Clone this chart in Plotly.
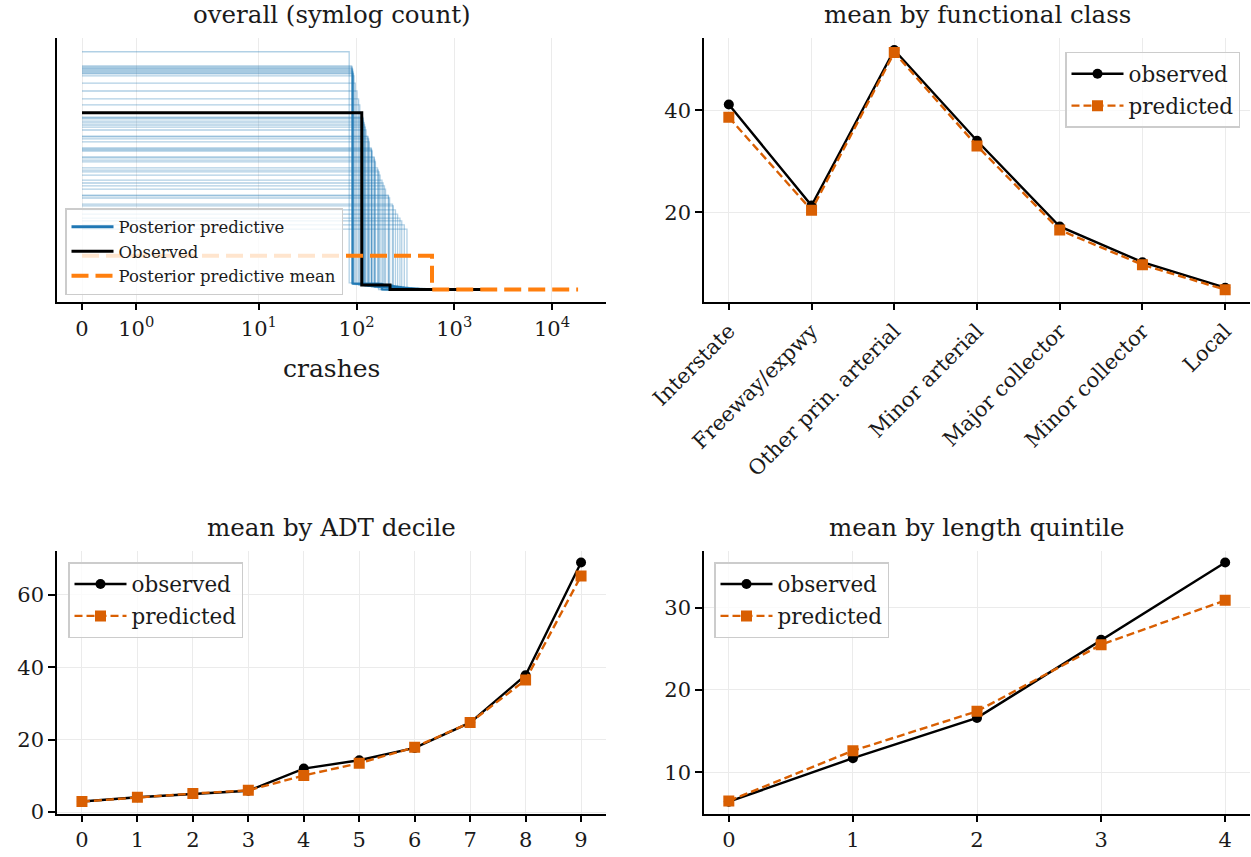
import math
import plotly.graph_objects as go

# ---------------- data ----------------
# Panel 1: posterior predictive histograms (step outlines), x = crashes, y = density
pp_first_bin_width = [84, 89, 90, 90, 91, 91, 91, 92, 92, 93, 94, 97, 101, 105, 108, 113, 116, 116, 117, 118,
                      120, 121, 123, 125, 130, 131, 133, 135, 141, 142, 143, 144, 151, 152, 154, 156, 164, 167, 170, 174,
                      182, 187, 193, 198, 211, 213, 218, 233, 238, 250, 263, 278, 290, 308, 328]
pp_first_bin_density = [0.01142, 0.01074, 0.01069, 0.01064, 0.01060, 0.01055, 0.01050, 0.01045, 0.01040, 0.01036,
                        0.01026, 0.00992, 0.00954, 0.00916, 0.00887, 0.00849, 0.00829, 0.00825, 0.00820, 0.00810,
                        0.00801, 0.00791, 0.00781, 0.00767, 0.00738, 0.00734, 0.00724, 0.00710, 0.00681, 0.00676,
                        0.00671, 0.00666, 0.00638, 0.00633, 0.00623, 0.00614, 0.00585, 0.00575, 0.00566, 0.00551,
                        0.00527, 0.00513, 0.00499, 0.00484, 0.00455, 0.00451, 0.00441, 0.00412, 0.00403, 0.00384,
                        0.00364, 0.00345, 0.00331, 0.00312, 0.00292]
pp_second_bin_density = [0.00034, 0.00031, 0.00033, 0.00029, 0.00032, 0.00030, 0.00028, 0.00031, 0.00027, 0.00030,
                         0.00029, 0.00026, 0.00027, 0.00024, 0.00025, 0.00023, 0.00024, 0.00021, 0.00022, 0.00023,
                         0.00020, 0.00021, 0.00019, 0.00020, 0.00018, 0.00019, 0.00017, 0.00018, 0.00016, 0.00017,
                         0.00015, 0.00016, 0.00014, 0.00015, 0.00013, 0.00014, 0.00012, 0.00013, 0.00012, 0.00011,
                         0.00011, 0.00010, 0.00010, 0.00009, 0.00009, 0.00008, 0.00009, 0.00008, 0.00007, 0.00008,
                         0.00007, 0.00006, 0.00007, 0.00006, 0.00005]
pp_max_crashes = [1850, 2120, 1640, 1980, 2310, 1720, 1900, 2050, 1560, 2240,
                  1790, 1950, 2180, 1680, 2010, 1870, 2290, 1610, 1930, 2090,
                  1750, 2200, 1820, 1990, 1580, 2130, 1880, 1700, 2260, 1960,
                  1810, 2070, 1650, 2150, 1920, 1770, 2340, 1860, 2020, 1690,
                  2110, 1840, 1970, 2230, 1600, 1890, 2060, 1740, 2170, 1910,
                  1800, 2280, 1660, 2000, 1940]
pp_tail_density = 0.00002

obs_edges = [0, 113, 220, 1970]
obs_density = [0.00850, 0.00024, 0.00003]

mean_edges = [0, 592, 18500]
mean_density = [0.00164, 0.00002]

symlog_tick_values = [0, 1, 10, 100, 1000, 10000]
symlog_tick_labels = ["0", "10<sup>0</sup>", "10<sup>1</sup>", "10<sup>2</sup>", "10<sup>3</sup>", "10<sup>4</sup>"]

# Panel 2: mean by functional class
func_classes = ["Interstate", "Freeway/expwy", "Other prin. arterial", "Minor arterial",
                "Major collector", "Minor collector", "Local"]
func_observed = [41.1, 21.3, 51.8, 34.0, 17.2, 10.2, 5.2]
func_predicted = [38.6, 20.4, 51.3, 33.0, 16.5, 9.7, 4.8]

# Panel 3: mean by ADT decile
adt_deciles = [0, 1, 2, 3, 4, 5, 6, 7, 8, 9]
adt_observed = [2.9, 4.1, 5.0, 5.9, 12.0, 14.3, 17.7, 24.7, 37.8, 68.9]
adt_predicted = [2.9, 4.1, 5.1, 6.0, 10.1, 13.5, 17.9, 24.7, 36.5, 65.2]

# Panel 4: mean by length quintile
len_quintiles = [0, 1, 2, 3, 4]
len_observed = [6.4, 11.7, 16.6, 26.1, 35.5]
len_predicted = [6.5, 12.6, 17.4, 25.5, 30.9]


# --------------- helpers ----------------
def symlog(v, linthresh=2.0, base=10.0, linscale=1.0):
    """matplotlib-style symlog transform (in decade units)."""
    adj = linscale / (1.0 - 1.0 / base)
    a = abs(v)
    if a <= linthresh:
        return v / linthresh * adj
    return math.copysign(adj + math.log10(a / linthresh), v)


FONT = "DejaVu Serif"
TXT = "#1a1a1a"
BLUE = "#1f77b4"
ORANGE = "#ff7f0e"
DORANGE = "#d95f02"
GRID = "#ebebeb"

fig = go.Figure()

# ---- panel 1 ----
for w, h1, h2, m in zip(pp_first_bin_width, pp_first_bin_density, pp_second_bin_density, pp_max_crashes):
    edges = [0, w, 2 * w, m]
    dens = [h1, h2, pp_tail_density, pp_tail_density]
    fig.add_trace(go.Scatter(
        x=[symlog(e) for e in edges], y=dens, mode="lines", line_shape="hv",
        line=dict(color="rgba(31,119,180,0.35)", width=1.3), showlegend=False,
        hoverinfo="skip", xaxis="x", yaxis="y"))

fig.add_trace(go.Scatter(x=[None], y=[None], mode="lines", name="Posterior predictive",
                         line=dict(color=BLUE, width=3), xaxis="x", yaxis="y",
                         legend="legend", legendgroup="a"))
fig.add_trace(go.Scatter(x=[symlog(e) for e in obs_edges], y=obs_density + [obs_density[-1]],
                         mode="lines", line_shape="hv", name="Observed",
                         line=dict(color="black", width=3), xaxis="x", yaxis="y",
                         legend="legend", legendgroup="b"))
fig.add_trace(go.Scatter(x=[symlog(e) for e in mean_edges], y=mean_density + [mean_density[-1]],
                         mode="lines", line_shape="hv", name="Posterior predictive mean",
                         line=dict(color=ORANGE, width=4, dash="17px,7px"), xaxis="x", yaxis="y",
                         legend="legend", legendgroup="c"))

# ---- panels 2-4 ----
def add_pair(xv, obs, pred, xa, ya, leg):
    fig.add_trace(go.Scatter(x=xv, y=obs, mode="lines+markers", name="observed",
                             line=dict(color="black", width=2.4),
                             marker=dict(symbol="circle", size=10, color="black"),
                             xaxis=xa, yaxis=ya, legend=leg, legendgroup=leg + "o"))
    fig.add_trace(go.Scatter(x=xv, y=pred, mode="lines+markers", name="predicted",
                             line=dict(color=DORANGE, width=2.4, dash="8px,4px"),
                             marker=dict(symbol="square", size=11, color=DORANGE),
                             xaxis=xa, yaxis=ya, legend=leg, legendgroup=leg + "p"))


add_pair(func_classes, func_observed, func_predicted, "x2", "y2", "legend2")
add_pair(adt_deciles, adt_observed, adt_predicted, "x3", "y3", "legend3")
add_pair(len_quintiles, len_observed, len_predicted, "x4", "y4", "legend4")

# ---------------- layout ----------------
W, H = 1251, 857
def px(v):
    return v / W
def py(v):
    return 1 - v / H

common = dict(showline=True, linecolor="black", linewidth=1.5, ticks="outside", ticklen=7,
              tickwidth=1.5, tickcolor="black", showgrid=True, gridcolor=GRID, gridwidth=1,
              zeroline=False, automargin=False, tickfont=dict(family=FONT, size=21, color=TXT))

top_dom = [py(301.7), py(38)]
bot_dom = [py(813.5), py(550.6)]
left_dom = [px(57), px(606)]
right_dom = [px(704), px(1250)]

legend_common = dict(bgcolor="rgba(255,255,255,0.8)", bordercolor="#cccccc", borderwidth=1.5)

fig.update_layout(
    width=W, height=H, margin=dict(l=0, r=0, t=0, b=0, autoexpand=False),
    plot_bgcolor="white", paper_bgcolor="white",
    font=dict(family=FONT, color=TXT),
    xaxis=dict(common, domain=left_dom, anchor="y", range=[-0.256, 5.363],
               tickvals=[symlog(v) for v in symlog_tick_values], ticktext=symlog_tick_labels),
    yaxis=dict(common, domain=top_dom, anchor="x", range=[-0.00056, 0.01208],
               showgrid=False, ticks="", showticklabels=False),
    xaxis2=dict(common, domain=right_dom, anchor="y2", range=[-0.3, 6.3], tickangle=-45),
    yaxis2=dict(common, domain=top_dom, anchor="x2", range=[2.45, 54.15], tickvals=[20, 40]),
    xaxis3=dict(common, domain=left_dom, anchor="y3", range=[-0.45, 9.45], tickvals=adt_deciles),
    yaxis3=dict(common, domain=bot_dom, anchor="x3", range=[-0.4, 72.2], tickvals=[0, 20, 40, 60]),
    xaxis4=dict(common, domain=right_dom, anchor="y4", range=[-0.2, 4.2], tickvals=len_quintiles),
    yaxis4=dict(common, domain=bot_dom, anchor="x4", range=[4.97, 36.95], tickvals=[10, 20, 30]),
    legend=dict(legend_common, x=px(65), y=py(295), xanchor="left", yanchor="bottom",
                font=dict(family=FONT, size=16.5, color=TXT), tracegroupgap=0, itemwidth=42),
    legend2=dict(legend_common, x=px(1240), y=py(51.7), xanchor="right", yanchor="top",
                 font=dict(family=FONT, size=21.5, color=TXT), tracegroupgap=1, itemwidth=52),
    legend3=dict(legend_common, x=px(68), y=py(562), xanchor="left", yanchor="top",
                 font=dict(family=FONT, size=21.5, color=TXT), tracegroupgap=1, itemwidth=52),
    legend4=dict(legend_common, x=px(714), y=py(562), xanchor="left", yanchor="top",
                 font=dict(family=FONT, size=21.5, color=TXT), tracegroupgap=1, itemwidth=52),
)

titles = [
    ("overall (symlog count)", (57 + 606) / 2, 15),
    ("mean by functional class", (704 + 1250) / 2, 15),
    ("mean by ADT decile", (57 + 606) / 2, 527),
    ("mean by length quintile", (704 + 1250) / 2, 527),
]
for text, cx, cy in titles:
    fig.add_annotation(text=text, x=px(cx), y=py(cy), xref="paper", yref="paper",
                       showarrow=False, xanchor="center", yanchor="middle",
                       font=dict(family=FONT, size=24.5, color=TXT))
fig.add_annotation(text="crashes", x=px(331), y=py(368), xref="paper", yref="paper",
                   showarrow=False, xanchor="center", yanchor="middle",
                   font=dict(family=FONT, size=25, color=TXT))

fig.write_html("out.html")
